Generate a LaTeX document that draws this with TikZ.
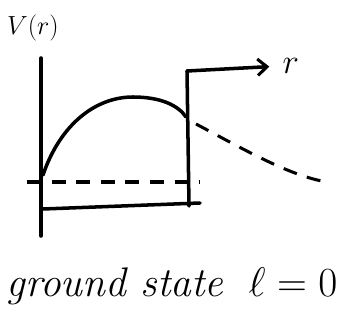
\documentclass[tikz,border=0pt]{standalone}
\usepackage{amsmath}
\usetikzlibrary{positioning,arrows.meta}

\begin{document}
\begin{tikzpicture}[
    x=0.03cm, y=-0.03cm,
    pen/.style={line width=3pt, line cap=round, line join=round},
    dashline/.style={line width=2.6pt, dash pattern=on 12pt off 9pt},
    arrow/.style={pen, -{Straight Barb[length=8pt, width=14pt, line width=2.6pt]}},
    tag/.style={inner sep=1pt, font=\Huge}
]
\useasboundingbox (0,0) rectangle (345,321);

% axis and well
\coordinate (axtop) at (41,58);
\coordinate (axbot) at (41,236);
\coordinate (origin) at (43,175);
\coordinate (walltop) at (187,71);
\coordinate (wallbot) at (189,206);
\coordinate (floorleft) at (43,209);
\coordinate (floorright) at (200,203);
\coordinate (peak) at (133,97);
\coordinate (wallhit) at (186,117);
\coordinate (levelleft) at (27,182);
\coordinate (levelright) at (200,182);
\coordinate (tailstart) at (196,124);
\coordinate (tailend) at (327,182);

\node[tag, scale=0.9] (vlabel) at (33,28) {$V(r)$};
\node[tag, scale=1.2, anchor=west] (rlabel) at (281,66) {$r$};
\node[tag, scale=1.42] (caption) at (172,286) {\textit{ground state} \ $\ell=0$};

\draw[pen] (axtop) -- (axbot);
\draw[pen] (wallbot) -- (walltop);
\draw[arrow, shorten >=10pt] (walltop) -- (rlabel.west);
\draw[pen] (floorleft) -- (floorright);
\draw[pen] (origin) .. controls (60,125) and (95,97) .. (peak)
    .. controls (160,97) and (178,105) .. (wallhit);

\draw[dashline] (levelleft) -- (levelright);
\draw[dashline] (tailstart) .. controls (245,150) and (290,176) .. (tailend);
\end{tikzpicture}
\end{document}
